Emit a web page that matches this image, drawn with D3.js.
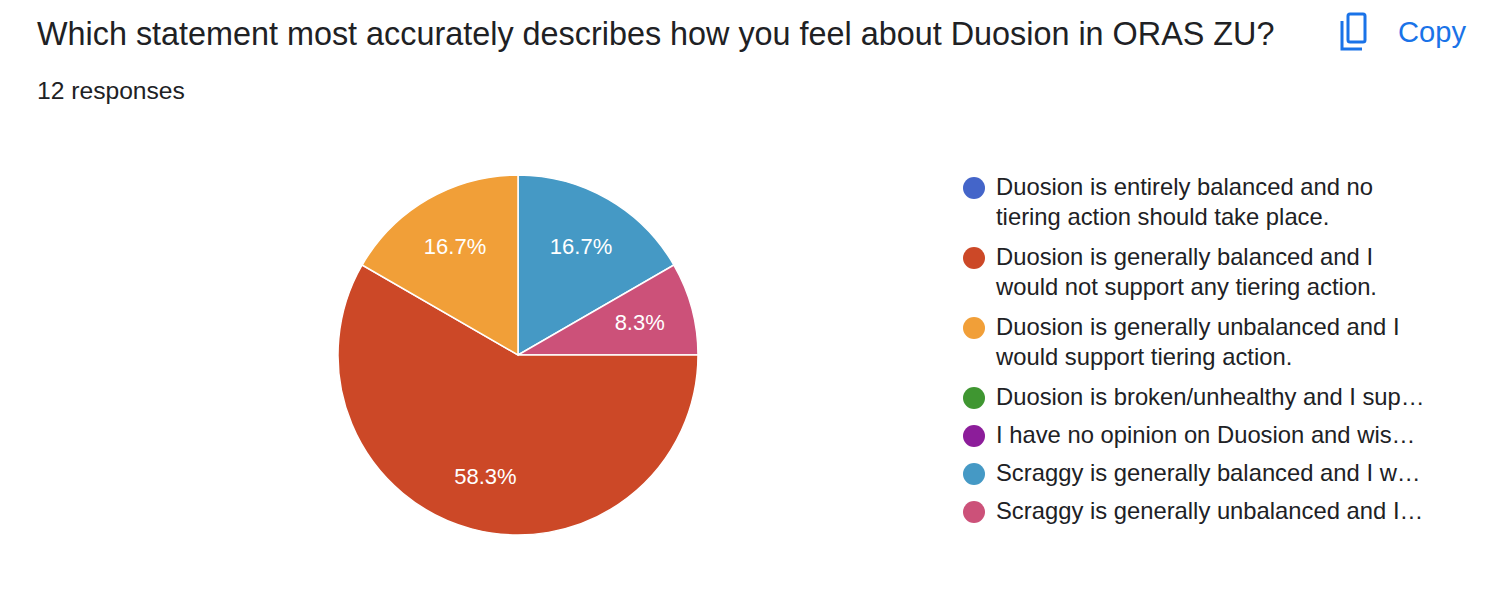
<!DOCTYPE html>
<html><head><meta charset="utf-8">
<script src="https://cdn.jsdelivr.net/npm/d3@7"></script>
<style>body{margin:0;background:#fff;font-family:"Liberation Sans",Arial,sans-serif}</style>
</head><body><svg id="c" width="1512" height="604"></svg>
<script>
const categories = ["Duosion is entirely balanced and no tiering action should take place.",
"Duosion is generally balanced and I would not support any tiering action.",
"Duosion is generally unbalanced and I would support tiering action.",
"Duosion is broken/unhealthy and I sup…",
"I have no opinion on Duosion and wis…",
"Scraggy is generally balanced and I w…",
"Scraggy is generally unbalanced and I…"];
const legendLines = [["Duosion is entirely balanced and no","tiering action should take place."],
["Duosion is generally balanced and I","would not support any tiering action."],
["Duosion is generally unbalanced and I","would support tiering action."],
["Duosion is broken/unhealthy and I sup…"],
["I have no opinion on Duosion and wis…"],
["Scraggy is generally balanced and I w…"],
["Scraggy is generally unbalanced and I…"]];
const counts = [0,7,2,0,0,2,1];
const colors = ["#4465c9","#cc4827","#f19f38","#3f9631","#8c1d9a","#4599c5","#cc5179"];
const drawOrder = [5,6,1,2]; // clockwise from top as shown

const svg = d3.select("#c");
function fit(sel, target){ const w = sel.node().getComputedTextLength(); const fs = +sel.attr("font-size"); sel.attr("font-size", fs*target/w); return fs*target/w; }
const title = svg.append("text").attr("x",37).attr("y",45).attr("font-size",27).attr("fill","#202124").text("Which statement most accurately describes how you feel about Duosion in ORAS ZU?");
fit(title, 1238);
const resp = svg.append("text").attr("x",37).attr("y",99).attr("font-size",21).attr("fill","#202124").text("12 responses");
fit(resp, 148);
const ic = svg.append("g").attr("fill","none").attr("stroke","#1a73e8").attr("stroke-width",3);
ic.append("path").attr("d","M1342 21 v28 h20");
ic.append("rect").attr("x",1348).attr("y",14).attr("width",17).attr("height",28).attr("rx",2);
const copy = svg.append("text").attr("x",1398).attr("y",42).attr("font-size",25).attr("fill","#1a73e8").text("Copy");
fit(copy, 68);

const total = d3.sum(counts);
const R = 180, cx = 518, cy = 355;
const data = drawOrder.map(i=>({i, v:counts[i]}));
const pie = d3.pie().value(d=>d.v).sort(null);
const arc = d3.arc().innerRadius(0).outerRadius(R);
const lab = d3.arc().innerRadius(R*0.7).outerRadius(R*0.7);
const g = svg.append("g").attr("transform",`translate(${cx},${cy})`);
const arcs = pie(data);
g.selectAll("path").data(arcs).join("path").attr("d",arc).attr("fill",d=>colors[d.data.i]).attr("stroke","#fff").attr("stroke-width",1.5);
g.selectAll("text").data(arcs).join("text").attr("transform",d=>`translate(${lab.centroid(d)})`)
 .attr("text-anchor","middle").attr("dy","0.35em").attr("fill","#fff").attr("font-size",22)
 .text(d=>(d.data.v/total*100).toFixed(1)+"%");

const probe = svg.append("text").attr("font-size",21).text(legendLines[3][0]);
const w = probe.node().getComputedTextLength(); probe.remove();
const lfs = 21*429/w;
let y = 188;
const lg = svg.append("g");
legendLines.forEach((lines,i)=>{
  lg.append("circle").attr("cx",974).attr("cy",y).attr("r",11).attr("fill",colors[i]);
  lines.forEach((t,k)=>lg.append("text").attr("x",996).attr("y",y+7+k*30).attr("font-size",lfs).attr("fill","#202124").text(t));
  y += lines.length===2 ? 70 : 38;
});
</script></body></html>
